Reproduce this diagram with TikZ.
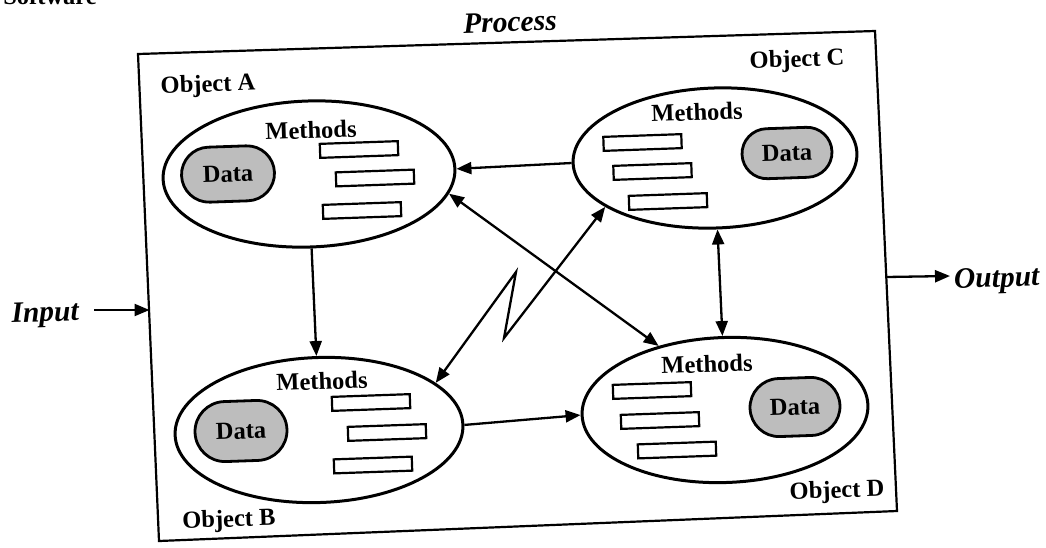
\documentclass[tikz,border=0pt]{standalone}
\usepackage{fontspec}
\setmainfont{Liberation Serif}
\usetikzlibrary{arrows.meta,shapes.geometric,shapes.misc}

\begin{document}
\begin{tikzpicture}[x=1pt,y=-1pt,
  every node/.style={rotate=2},
  lbl/.style={font=\fontsize{24.5}{28}\selectfont\bfseries, inner sep=0pt},
  io/.style={font=\fontsize{29.5}{32}\selectfont\bfseries\itshape, inner sep=0pt},
  obj/.style={ellipse, draw, line width=3pt, minimum width=288pt, minimum height=144pt, inner sep=0pt},
  datum/.style={rounded rectangle, draw, line width=2.8pt, fill=black!26,
    minimum width=92pt, minimum height=56pt, inner sep=0pt,
    font=\fontsize{24.5}{28}\selectfont\bfseries},
  meth/.style={rectangle, draw, line width=2.2pt, minimum width=78pt, minimum height=14pt, inner sep=0pt},
  tip/.tip={Triangle[length=15pt,width=12pt]},
  link/.style={line width=2.3pt, -tip},
  dlink/.style={line width=2.3pt, tip-tip},
]
\useasboundingbox (0,0) rectangle (1046,547);

% caption line above the figure, running off the top edge
\node[lbl, anchor=base east, rotate=-2] (cap) at (97,4) {Software};

% process frame
\coordinate (p1) at (138,54);
\coordinate (p2) at (875,31);
\coordinate (p3) at (897,511);
\coordinate (p4) at (159,541);
\draw[line width=2.2pt] (p1) -- (p2) -- (p3) -- (p4) -- cycle;
\node[io] (process) at (510,22) {Process};

% input / output
\node[io, anchor=east] (input) at (79,314) {Input};
\coordinate (inS) at (94,310);
\coordinate (inE) at (149.5,310);
\draw[link] (inS) -- (inE);
\coordinate (outS) at (886,277);
\coordinate (outE) at (950,276);
\draw[link] (outS) -- (outE);
\node[io, anchor=west] (output) at (954,282) {Output};

% object A
\node[obj, minimum width=292pt, minimum height=146pt] (eA) at (309,174) {};
\node[lbl] (labA) at (208,86) {Object A};
\node[lbl] (mA) at (311,130) {Methods};
\node[datum, minimum width=93pt, minimum height=55pt] (dA) at (228,174) {Data};
\node[meth] (rA1) at (359,149.5) {};
\node[meth] (rA2) at (375,178) {};
\node[meth] (rA3) at (362,210.5) {};

% object C
\node[obj, minimum width=284pt, minimum height=140pt] (eC) at (715,158) {};
\node[lbl] (labC) at (797,61) {Object C};
\node[lbl] (mC) at (697,112) {Methods};
\node[datum, minimum width=90pt, minimum height=50pt] (dC) at (787,153) {Data};
\node[meth] (rC1) at (642.5,142.5) {};
\node[meth] (rC2) at (652.5,171.5) {};
\node[meth] (rC3) at (668,201.5) {};

% object B
\node[obj, minimum width=288pt, minimum height=145pt] (eB) at (319,430) {};
\node[lbl] (labB) at (229,521) {Object B};
\node[lbl] (mB) at (322,381) {Methods};
\node[datum, minimum height=60pt] (dB) at (241,431) {Data};
\node[meth] (rB1) at (371,402.5) {};
\node[meth] (rB2) at (387,432.5) {};
\node[meth] (rB3) at (373,465) {};

% object D
\node[obj, minimum width=286pt, minimum height=145pt] (eD) at (725,410) {};
\node[lbl] (labD) at (837,492) {Object D};
\node[lbl] (mD) at (707,364) {Methods};
\node[datum, minimum width=90pt, minimum height=58pt] (dD) at (795,407) {Data};
\node[meth] (rD1) at (652,390.5) {};
\node[meth] (rD2) at (660,420.5) {};
\node[meth] (rD3) at (677,450) {};

% messages between objects
\draw[link] (eC.west) -- (eA.east);
\draw[link] (eA.south) -- (eB.north);
\draw[link] (eB.east) -- (eD.west);
\draw[dlink] (eC.south) -- (eD.north);
\draw[dlink] (eA.-10) -- (eD.134);
\coordinate (z1) at (516,272);
\coordinate (z2) at (504,338);
\draw[dlink, line join=miter] (eB.20) -- (z1) -- (z2) -- (eC.202);
\end{tikzpicture}
\end{document}
